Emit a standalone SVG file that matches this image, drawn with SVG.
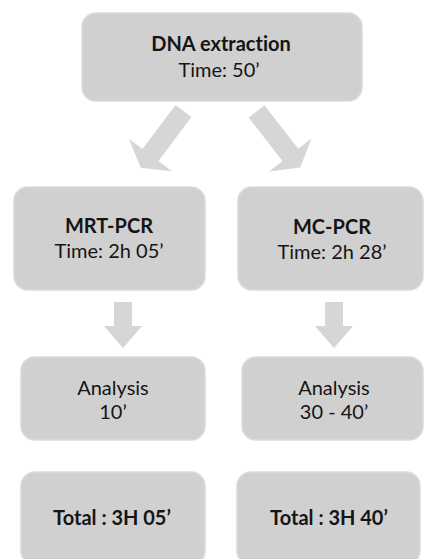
<svg xmlns="http://www.w3.org/2000/svg" width="424" height="559" viewBox="0 0 424 559">
<defs>
<style>
.box{fill:#d0d0d0;stroke:#dadada;stroke-width:1.5}
.arr{fill:#d6d6d6}
text{font-family:Lato,"Open Sans","Liberation Sans",sans-serif;font-size:20px;fill:#151515;text-anchor:middle;font-variant-ligatures:none;font-feature-settings:"liga" 0,"dlig" 0}
.b{font-weight:bold}
</style>
<path id="diag" d="M-10,0 L10,0 L10,55 L27,55 L0,71 L-27,55 L-10,55 Z"/>
<path id="down" d="M-9,0 L9,0 L9,24 L19,24 L0,46 L-19,24 L-9,24 Z"/>
</defs>
<rect width="424" height="559" fill="#ffffff"/>
<g id="connectors">
<use href="#diag" class="arr" transform="translate(183.5,111) rotate(37)"/>
<use href="#diag" class="arr" transform="translate(256.5,111.5) rotate(-38)"/>
<use href="#down" class="arr" transform="translate(123,302)"/>
<use href="#down" class="arr" transform="translate(334,302)"/>
</g>
<g id="dna">
<rect class="box" x="82" y="13" width="280" height="88" rx="14"/>
<text class="b" x="221" y="51">DNA extraction</text>
<text x="219" y="77">Time: 50’</text>
</g>
<g id="mrt">
<rect class="box" x="14" y="187" width="191" height="103" rx="14"/>
<text class="b" x="109" y="233">MRT-PCR</text>
<text x="109" y="258">Time: 2h 05’</text>
</g>
<g id="mc">
<rect class="box" x="238" y="187" width="185" height="103" rx="14"/>
<text class="b" x="332" y="234">MC-PCR</text>
<text x="332" y="259">Time: 2h 28’</text>
</g>
<g id="analysis1">
<rect class="box" x="21" y="357" width="184" height="83" rx="14"/>
<text x="113" y="395">Analysis</text>
<text x="113" y="419">10’</text>
</g>
<g id="analysis2">
<rect class="box" x="242" y="357" width="181" height="83" rx="14"/>
<text x="334" y="395">Analysis</text>
<text x="334" y="419">30 - 40’</text>
</g>
<g id="total1">
<rect class="box" x="21" y="472" width="184" height="93" rx="14"/>
<text class="b" x="112" y="525">Total : 3H 05’</text>
</g>
<g id="total2">
<rect class="box" x="237" y="472" width="183" height="93" rx="14"/>
<text class="b" x="329" y="525">Total : 3H 40’</text>
</g>
</svg>
